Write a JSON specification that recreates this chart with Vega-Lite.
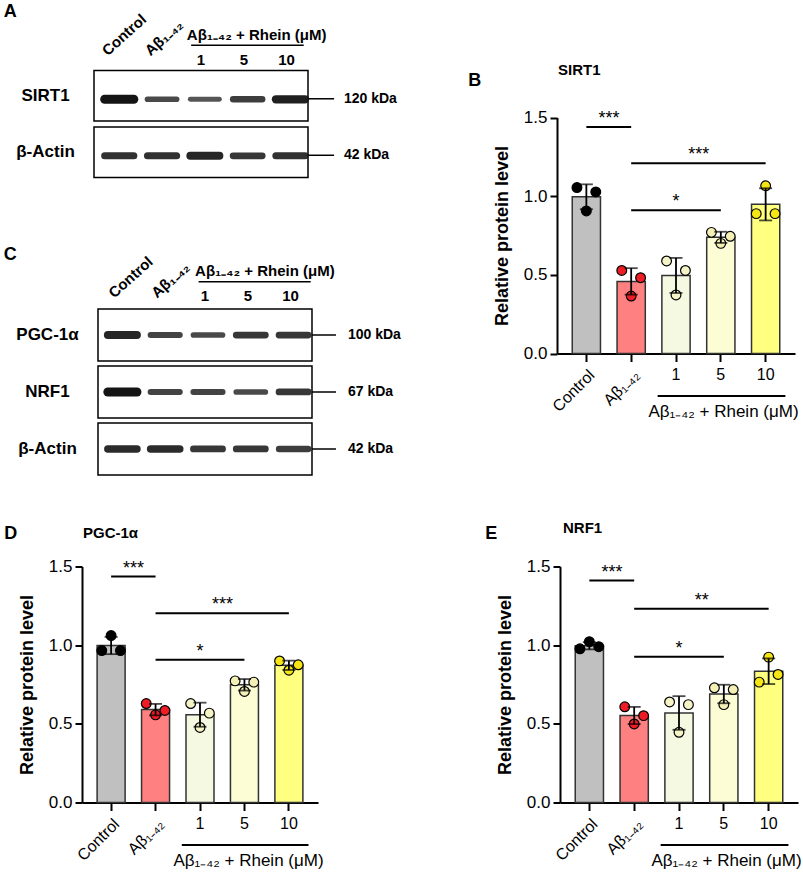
{
  "$schema": "https://vega.github.io/schema/vega-lite/v6.json",
  "padding": {"left": 3, "top": 3, "right": 0, "bottom": 0},
  "config": {
    "font": "Liberation Sans",
    "view": {"stroke": null},
    "axis": {"labelColor": "black", "titleColor": "black", "domainColor": "black", "tickColor": "black", "grid": false, "labelFont": "Liberation Sans", "titleFont": "Liberation Sans"},
    "title": {"color": "black", "font": "Liberation Sans", "fontWeight": "bold"}
  },
  "datasets": {
    "lanes": [
      {"lane": "Control"}, {"lane": "Aβ₁₋₄₂"}, {"lane": "1"}, {"lane": "5"}, {"lane": "10"}
    ],
    "protA": [
      {"protein": "SIRT1", "kda": "120 kDa", "firstLane": "Control", "lastLane": "10", "markerLane": "Marker"},
      {"protein": "β-Actin", "kda": "42 kDa", "firstLane": "Control", "lastLane": "10", "markerLane": "Marker"}
    ],
    "blotA": [
      {"protein": "SIRT1", "lane": "Control", "intensity": 1.0},
      {"protein": "SIRT1", "lane": "Aβ₁₋₄₂", "intensity": 0.55},
      {"protein": "SIRT1", "lane": "1", "intensity": 0.45},
      {"protein": "SIRT1", "lane": "5", "intensity": 0.65},
      {"protein": "SIRT1", "lane": "10", "intensity": 0.9},
      {"protein": "β-Actin", "lane": "Control", "intensity": 0.75},
      {"protein": "β-Actin", "lane": "Aβ₁₋₄₂", "intensity": 0.75},
      {"protein": "β-Actin", "lane": "1", "intensity": 0.85},
      {"protein": "β-Actin", "lane": "5", "intensity": 0.7},
      {"protein": "β-Actin", "lane": "10", "intensity": 0.75}
    ],
    "protC": [
      {"protein": "PGC-1α", "kda": "100 kDa", "firstLane": "Control", "lastLane": "10", "markerLane": "Marker"},
      {"protein": "NRF1", "kda": "67 kDa", "firstLane": "Control", "lastLane": "10", "markerLane": "Marker"},
      {"protein": "β-Actin", "kda": "42 kDa", "firstLane": "Control", "lastLane": "10", "markerLane": "Marker"}
    ],
    "blotC": [
      {"protein": "PGC-1α", "lane": "Control", "intensity": 0.85},
      {"protein": "PGC-1α", "lane": "Aβ₁₋₄₂", "intensity": 0.6},
      {"protein": "PGC-1α", "lane": "1", "intensity": 0.55},
      {"protein": "PGC-1α", "lane": "5", "intensity": 0.7},
      {"protein": "PGC-1α", "lane": "10", "intensity": 0.7},
      {"protein": "NRF1", "lane": "Control", "intensity": 1.0},
      {"protein": "NRF1", "lane": "Aβ₁₋₄₂", "intensity": 0.6},
      {"protein": "NRF1", "lane": "1", "intensity": 0.6},
      {"protein": "NRF1", "lane": "5", "intensity": 0.55},
      {"protein": "NRF1", "lane": "10", "intensity": 0.7},
      {"protein": "β-Actin", "lane": "Control", "intensity": 0.8},
      {"protein": "β-Actin", "lane": "Aβ₁₋₄₂", "intensity": 0.8},
      {"protein": "β-Actin", "lane": "1", "intensity": 0.7},
      {"protein": "β-Actin", "lane": "5", "intensity": 0.7},
      {"protein": "β-Actin", "lane": "10", "intensity": 0.65}
    ],
    "sirt1": [
      {"group": "Control", "rep": "r1", "value": 1.055},
      {"group": "Control", "rep": "r2", "value": 0.906},
      {"group": "Control", "rep": "r3", "value": 1.027},
      {"group": "Aβ₁₋₄₂", "rep": "r1", "value": 0.528},
      {"group": "Aβ₁₋₄₂", "rep": "r2", "value": 0.365},
      {"group": "Aβ₁₋₄₂", "rep": "r3", "value": 0.482},
      {"group": "1", "rep": "r1", "value": 0.588},
      {"group": "1", "rep": "r2", "value": 0.372},
      {"group": "1", "rep": "r3", "value": 0.528},
      {"group": "5", "rep": "r1", "value": 0.77},
      {"group": "5", "rep": "r2", "value": 0.70},
      {"group": "5", "rep": "r3", "value": 0.745},
      {"group": "10", "rep": "r1", "value": 0.889},
      {"group": "10", "rep": "r2", "value": 1.066},
      {"group": "10", "rep": "r3", "value": 0.889}
    ],
    "sigB": [
      {"from": "Control", "to": "Aβ₁₋₄₂", "y": 1.44, "label": "***", "at": "Aβ₁₋₄₂", "side": "gap"},
      {"from": "Aβ₁₋₄₂", "to": "10", "y": 1.21, "label": "***", "at": "5", "side": "gap"},
      {"from": "Aβ₁₋₄₂", "to": "5", "y": 0.91, "label": "*", "at": "1", "side": "center"}
    ],
    "pgc": [
      {"group": "Control", "rep": "r1", "value": 0.966},
      {"group": "Control", "rep": "r2", "value": 1.061},
      {"group": "Control", "rep": "r3", "value": 0.966},
      {"group": "Aβ₁₋₄₂", "rep": "r1", "value": 0.629},
      {"group": "Aβ₁₋₄₂", "rep": "r2", "value": 0.557},
      {"group": "Aβ₁₋₄₂", "rep": "r3", "value": 0.585},
      {"group": "1", "rep": "r1", "value": 0.629},
      {"group": "1", "rep": "r2", "value": 0.477},
      {"group": "1", "rep": "r3", "value": 0.568},
      {"group": "5", "rep": "r1", "value": 0.773},
      {"group": "5", "rep": "r2", "value": 0.706},
      {"group": "5", "rep": "r3", "value": 0.765},
      {"group": "10", "rep": "r1", "value": 0.900},
      {"group": "10", "rep": "r2", "value": 0.841},
      {"group": "10", "rep": "r3", "value": 0.875}
    ],
    "sigD": [
      {"from": "Control", "to": "Aβ₁₋₄₂", "y": 1.436, "label": "***", "at": "Aβ₁₋₄₂", "side": "gap"},
      {"from": "Aβ₁₋₄₂", "to": "10", "y": 1.203, "label": "***", "at": "5", "side": "gap"},
      {"from": "Aβ₁₋₄₂", "to": "5", "y": 0.907, "label": "*", "at": "1", "side": "center"}
    ],
    "nrf1": [
      {"group": "Control", "rep": "r1", "value": 0.977},
      {"group": "Control", "rep": "r2", "value": 1.022},
      {"group": "Control", "rep": "r3", "value": 0.990},
      {"group": "Aβ₁₋₄₂", "rep": "r1", "value": 0.608},
      {"group": "Aβ₁₋₄₂", "rep": "r2", "value": 0.499},
      {"group": "Aβ₁₋₄₂", "rep": "r3", "value": 0.552},
      {"group": "1", "rep": "r1", "value": 0.639},
      {"group": "1", "rep": "r2", "value": 0.446},
      {"group": "1", "rep": "r3", "value": 0.622},
      {"group": "5", "rep": "r1", "value": 0.729},
      {"group": "5", "rep": "r2", "value": 0.622},
      {"group": "5", "rep": "r3", "value": 0.718},
      {"group": "10", "rep": "r1", "value": 0.765},
      {"group": "10", "rep": "r2", "value": 0.924},
      {"group": "10", "rep": "r3", "value": 0.814}
    ],
    "sigE": [
      {"from": "Control", "to": "Aβ₁₋₄₂", "y": 1.411, "label": "***", "at": "Aβ₁₋₄₂", "side": "gap"},
      {"from": "Aβ₁₋₄₂", "to": "10", "y": 1.232, "label": "**", "at": "5", "side": "gap"},
      {"from": "Aβ₁₋₄₂", "to": "5", "y": 0.926, "label": "*", "at": "1", "side": "center"}
    ],
    "rheinGroup": [
      {"first": "1", "last": "10", "label": "Aβ₁₋₄₂ + Rhein (μM)"}
    ]
  },
  "vconcat": [
    {
      "hconcat": [
        {
          "vconcat": [
            {
              "width": 256.8,
              "height": 163.5,
              "title": {"text": "A", "anchor": "start", "fontSize": 18, "baseline": "alphabetic", "dx": -12, "offset": -23.5},
              "layer": [
                {
                  "data": {"name": "protA"},
                  "mark": {"type": "rect", "fill": "white", "stroke": "black", "strokeWidth": 1.5},
                  "encoding": {
                    "x": {"field": "firstLane", "type": "nominal", "bandPosition": 0, "scale": {"domain": ["Control", "Aβ₁₋₄₂", "1", "5", "10", "Marker"], "paddingInner": 0, "paddingOuter": 0}, "axis": null},
                    "x2": {"field": "lastLane", "bandPosition": 1},
                    "y": {"field": "protein", "type": "nominal", "title": null, "scale": {"domain": ["Lane", "SIRT1", "β-Actin"], "paddingInner": 0.106, "paddingOuter": 0},
                      "axis": {"values": ["SIRT1", "β-Actin"], "title": null, "orient": "left", "domain": false, "ticks": false, "tickSize": 0, "labelAlign": "center", "labelBaseline": "middle", "labelPadding": 49, "labelFontSize": 17, "labelFontWeight": "bold"}}
                  }
                },
                {
                  "data": {"name": "protA"},
                  "mark": {"type": "rule", "strokeWidth": 1.5, "color": "black"},
                  "encoding": {
                    "x": {"field": "lastLane", "type": "nominal", "bandPosition": 1, "axis": null},
                    "x2": {"field": "markerLane", "bandPosition": 0.61},
                    "y": {"field": "protein", "type": "nominal", "title": null, "bandPosition": 0.56}
                  }
                },
                {
                  "data": {"name": "protA"},
                  "mark": {"type": "text", "align": "left", "baseline": "middle", "fontSize": 14, "fontWeight": "bold", "color": "black"},
                  "encoding": {
                    "x": {"field": "markerLane", "type": "nominal", "bandPosition": 0.84, "axis": null},
                    "y": {"field": "protein", "type": "nominal", "title": null, "bandPosition": 0.56},
                    "text": {"field": "kda"}
                  }
                },
                {
                  "data": {"name": "blotA"},
                  "mark": {"type": "rule", "strokeCap": "round", "color": "#141414"},
                  "encoding": {
                    "x": {"field": "lane", "type": "nominal", "bandPosition": 0.25, "axis": null},
                    "x2": {"field": "lane", "bandPosition": 0.93},
                    "y": {"field": "protein", "type": "nominal", "title": null, "bandPosition": 0.57},
                    "strokeWidth": {"field": "intensity", "type": "quantitative", "scale": {"domain": [0, 1], "range": [1.5, 9]}, "legend": null},
                    "opacity": {"field": "intensity", "type": "quantitative", "scale": {"domain": [0, 1], "range": [0.5, 1]}, "legend": null}
                  }
                },
                {
                  "data": {"name": "lanes"},
                  "transform": [{"filter": {"field": "lane", "oneOf": ["Control", "Aβ₁₋₄₂"]}}],
                  "mark": {"type": "text", "angle": -42, "align": "left", "baseline": "alphabetic", "fontSize": 15, "fontWeight": "bold", "color": "black"},
                  "encoding": {
                    "x": {"field": "lane", "type": "nominal", "bandPosition": 0.32, "axis": null},
                    "y": {"datum": "Lane", "bandPosition": 0.84, "title": null},
                    "text": {"field": "lane"}
                  }
                },
                {
                  "data": {"name": "lanes"},
                  "transform": [{"filter": {"field": "lane", "oneOf": ["1", "5", "10"]}}],
                  "mark": {"type": "text", "align": "center", "baseline": "alphabetic", "fontSize": 15, "fontWeight": "bold", "color": "black"},
                  "encoding": {
                    "x": {"field": "lane", "type": "nominal", "axis": null},
                    "y": {"datum": "Lane", "bandPosition": 1.0, "title": null},
                    "text": {"field": "lane"}
                  }
                },
                {
                  "data": {"name": "rheinGroup"},
                  "mark": {"type": "rule", "strokeWidth": 1.5, "color": "black"},
                  "encoding": {
                    "x": {"field": "first", "type": "nominal", "bandPosition": 0.27, "axis": null},
                    "x2": {"field": "last", "bandPosition": 0.9},
                    "y": {"datum": "Lane", "bandPosition": 0.62, "title": null}
                  }
                },
                {
                  "data": {"name": "rheinGroup"},
                  "mark": {"type": "text", "align": "center", "baseline": "middle", "fontSize": 15, "fontWeight": "bold", "color": "black"},
                  "encoding": {
                    "x": {"datum": "5", "bandPosition": 0.8, "axis": null},
                    "y": {"datum": "Lane", "bandPosition": 0.41, "title": null},
                    "text": {"field": "label"}
                  }
                }
              ]
            },
            {
              "width": 260.8,
              "height": 223,
              "title": {"text": "C", "anchor": "start", "fontSize": 18, "baseline": "alphabetic", "dx": -12, "offset": -26},
              "layer": [
                {
                  "data": {"name": "protC"},
                  "mark": {"type": "rect", "fill": "white", "stroke": "black", "strokeWidth": 1.5},
                  "encoding": {
                    "x": {"field": "firstLane", "type": "nominal", "bandPosition": 0, "scale": {"domain": ["Control", "Aβ₁₋₄₂", "1", "5", "10", "Marker"], "paddingInner": 0, "paddingOuter": 0.0467, "align": 1}, "axis": null},
                    "x2": {"field": "lastLane", "bandPosition": 1},
                    "y": {"field": "protein", "type": "nominal", "title": null, "scale": {"domain": ["Lane", "PGC-1α", "NRF1", "β-Actin"], "paddingInner": 0.0877, "paddingOuter": 0},
                      "axis": {"values": ["PGC-1α", "NRF1", "β-Actin"], "title": null, "orient": "left", "domain": false, "ticks": false, "tickSize": 0, "labelAlign": "center", "labelBaseline": "middle", "labelPadding": 47, "labelFontSize": 17, "labelFontWeight": "bold"}}
                  }
                },
                {
                  "data": {"name": "protC"},
                  "mark": {"type": "rule", "strokeWidth": 1.5, "color": "black"},
                  "encoding": {
                    "x": {"field": "lastLane", "type": "nominal", "bandPosition": 1, "axis": null},
                    "x2": {"field": "markerLane", "bandPosition": 0.56},
                    "y": {"field": "protein", "type": "nominal", "title": null, "bandPosition": 0.5}
                  }
                },
                {
                  "data": {"name": "protC"},
                  "mark": {"type": "text", "align": "left", "baseline": "middle", "fontSize": 14, "fontWeight": "bold", "color": "black"},
                  "encoding": {
                    "x": {"field": "markerLane", "type": "nominal", "bandPosition": 0.84, "axis": null},
                    "y": {"field": "protein", "type": "nominal", "title": null, "bandPosition": 0.5},
                    "text": {"field": "kda"}
                  }
                },
                {
                  "data": {"name": "blotC"},
                  "mark": {"type": "rule", "strokeCap": "round", "color": "#141414"},
                  "encoding": {
                    "x": {"field": "lane", "type": "nominal", "bandPosition": 0.23, "axis": null},
                    "x2": {"field": "lane", "bandPosition": 0.91},
                    "y": {"field": "protein", "type": "nominal", "title": null, "bandPosition": 0.5},
                    "strokeWidth": {"field": "intensity", "type": "quantitative", "scale": {"domain": [0, 1], "range": [1.5, 9]}, "legend": null},
                    "opacity": {"field": "intensity", "type": "quantitative", "scale": {"domain": [0, 1], "range": [0.5, 1]}, "legend": null}
                  }
                },
                {
                  "data": {"name": "lanes"},
                  "transform": [{"filter": {"field": "lane", "oneOf": ["Control", "Aβ₁₋₄₂"]}}],
                  "mark": {"type": "text", "angle": -42, "align": "left", "baseline": "alphabetic", "fontSize": 15, "fontWeight": "bold", "color": "black"},
                  "encoding": {
                    "x": {"field": "lane", "type": "nominal", "bandPosition": 0.38, "axis": null},
                    "y": {"datum": "Lane", "bandPosition": 0.9, "title": null},
                    "text": {"field": "lane"}
                  }
                },
                {
                  "data": {"name": "lanes"},
                  "transform": [{"filter": {"field": "lane", "oneOf": ["1", "5", "10"]}}],
                  "mark": {"type": "text", "align": "center", "baseline": "alphabetic", "fontSize": 15, "fontWeight": "bold", "color": "black"},
                  "encoding": {
                    "x": {"field": "lane", "type": "nominal", "axis": null},
                    "y": {"datum": "Lane", "bandPosition": 0.95, "title": null},
                    "text": {"field": "lane"}
                  }
                },
                {
                  "data": {"name": "rheinGroup"},
                  "mark": {"type": "rule", "strokeWidth": 1.5, "color": "black"},
                  "encoding": {
                    "x": {"field": "first", "type": "nominal", "bandPosition": 0.35, "axis": null},
                    "x2": {"field": "last", "bandPosition": 0.97},
                    "y": {"datum": "Lane", "bandPosition": 0.57, "title": null}
                  }
                },
                {
                  "data": {"name": "rheinGroup"},
                  "mark": {"type": "text", "align": "center", "baseline": "middle", "fontSize": 15, "fontWeight": "bold", "color": "black"},
                  "encoding": {
                    "x": {"datum": "5", "bandPosition": 0.9, "axis": null},
                    "y": {"datum": "Lane", "bandPosition": 0.37, "title": null},
                    "text": {"field": "label"}
                  }
                }
              ]
            }
          ],
          "spacing": 67
        },
        {
          "title": {"text": "B", "anchor": "start", "fontSize": 18, "baseline": "alphabetic", "dx": -25, "offset": -89.5},
          "vconcat": [
            {
              "width": 238,
              "height": 339.5,
              "title": {"text": "SIRT1", "anchor": "start", "frame": "group", "fontSize": 15, "baseline": "alphabetic", "dx": 1, "offset": -75.5},
              "data": {"name": "sirt1"},
              "layer": [
                {
                  "mark": {"type": "bar", "stroke": "#333333", "strokeWidth": 1.5},
                  "encoding": {
                    "x": {"field": "group", "type": "nominal",
                      "scale": {"domain": ["Control", "Aβ₁₋₄₂", "1", "5", "10"], "paddingInner": 0.37, "paddingOuter": 0.34},
                      "axis": {"title": "Aβ₁₋₄₂ + Rhein (μM)", "titleFontWeight": "normal", "titleFontSize": 17, "titleX": 166, "titleY": 58, "titleAlign": "center", "titleBaseline": "middle",
                        "labelFontSize": 16, "labelAngle": {"expr": "indexof(['1','5','10'], datum.value) >= 0 ? 0 : -45"},
                        "labelAlign": {"condition": {"test": "indexof(['1','5','10'], datum.value) >= 0", "value": "center"}, "value": "right"},
                        "labelBaseline": "top", "labelPadding": 5, "tickSize": 8, "tickWidth": 2, "domainWidth": 2, "labelOverlap": false, "labelBound": false, "labelFlush": false}},
                    "y": {"aggregate": "mean", "field": "value", "type": "quantitative", "title": "Relative protein level",
                      "scale": {"domain": [0, 1.5], "range": [339.5, 103.5], "nice": false},
                      "axis": {"titleFontSize": 18, "titleFontWeight": "bold", "titlePadding": 12, "values": [0, 0.5, 1, 1.5], "format": ".1f", "labelFontSize": 17, "labelPadding": 3, "tickSize": 7, "tickWidth": 2, "domainWidth": 2}},
                    "fill": {"field": "group", "type": "nominal", "scale": {"domain": ["Control", "Aβ₁₋₄₂", "1", "5", "10"], "range": ["#c0c0c0", "#ff8080", "#f5f9e1", "#fdfdd5", "#ffff80"]}, "legend": null}
                  }
                },
                {
                  "mark": {"type": "point", "shape": "circle", "filled": true, "size": 95, "stroke": "black", "strokeWidth": 1.2, "opacity": 1},
                  "encoding": {
                    "x": {"field": "group", "type": "nominal"},
                    "xOffset": {"field": "rep", "type": "nominal", "scale": {"domain": ["r1", "r2", "r3"]}},
                    "y": {"field": "value", "type": "quantitative", "title": "Relative protein level"},
                    "fill": {"field": "group", "type": "nominal", "scale": {"domain": ["Control", "Aβ₁₋₄₂", "1", "5", "10"], "range": ["#000000", "#ee1c24", "#f4f4c6", "#f3efb5", "#f6e514"]}, "legend": null}
                  }
                },
                {
                  "mark": {"type": "errorbar", "extent": "stdev", "color": "black", "thickness": 1.8, "ticks": {"size": 13, "thickness": 1.8}},
                  "encoding": {
                    "x": {"field": "group", "type": "nominal"},
                    "y": {"field": "value", "type": "quantitative", "title": "Relative protein level"}
                  }
                },
                {
                  "data": {"name": "sigB"},
                  "mark": {"type": "rule", "strokeWidth": 2, "color": "black"},
                  "encoding": {
                    "x": {"field": "from", "type": "nominal"},
                    "x2": {"field": "to"},
                    "y": {"field": "y", "type": "quantitative", "title": "Relative protein level"}
                  }
                },
                {
                  "data": {"name": "sigB"},
                  "mark": {"type": "text", "fontSize": 18, "baseline": "alphabetic", "dy": -3, "color": "black"},
                  "encoding": {
                    "x": {"field": "at", "type": "nominal"},
                    "xOffset": {"field": "side", "type": "nominal", "scale": {"type": "point", "domain": ["gap", "center"], "range": [-8, 14], "padding": 0}},
                    "y": {"field": "y", "type": "quantitative", "title": "Relative protein level"},
                    "text": {"field": "label"}
                  }
                },
                {
                  "data": {"name": "rheinGroup"},
                  "mark": {"type": "rule", "strokeWidth": 2, "color": "black"},
                  "encoding": {
                    "x": {"field": "first", "type": "nominal", "bandPosition": -0.15},
                    "x2": {"field": "last", "bandPosition": 1.2},
                    "y": {"datum": -0.27}
                  }
                }
              ],
              "resolve": {"scale": {"fill": "independent", "xOffset": "independent"}}
            }
          ]
        }
      ],
      "spacing": 67
    },
    {
      "hconcat": [
        {
          "title": {"text": "D", "anchor": "start", "fontSize": 18, "baseline": "alphabetic", "dx": -14, "offset": -30.5},
          "vconcat": [
            {
              "width": 224,
              "height": 236,
              "title": {"text": "PGC-1α", "anchor": "start", "frame": "group", "fontSize": 15, "baseline": "alphabetic", "dx": -11, "offset": 4.5},
              "data": {"name": "pgc"},
              "layer": [
                {
                  "mark": {"type": "bar", "stroke": "#333333", "strokeWidth": 1.5},
                  "encoding": {
                    "x": {"field": "group", "type": "nominal",
                      "scale": {"domain": ["Control", "Aβ₁₋₄₂", "1", "5", "10"], "range": [-12, 224], "paddingInner": 0.37, "paddingOuter": 0.34},
                      "axis": {"title": "Aβ₁₋₄₂ + Rhein (μM)", "titleFontWeight": "normal", "titleFontSize": 17, "titleX": 154, "titleY": 58, "titleAlign": "center", "titleBaseline": "middle",
                        "labelFontSize": 16, "labelAngle": {"expr": "indexof(['1','5','10'], datum.value) >= 0 ? 0 : -45"},
                        "labelAlign": {"condition": {"test": "indexof(['1','5','10'], datum.value) >= 0", "value": "center"}, "value": "right"},
                        "labelBaseline": "top", "labelPadding": 5, "tickSize": 8, "tickWidth": 2, "domainWidth": 2, "labelOverlap": false, "labelBound": false, "labelFlush": false}},
                    "y": {"aggregate": "mean", "field": "value", "type": "quantitative", "title": "Relative protein level",
                      "scale": {"domain": [0, 1.5], "nice": false},
                      "axis": {"offset": 12, "titleFontSize": 18, "titleFontWeight": "bold", "titlePadding": 12, "values": [0, 0.5, 1, 1.5], "format": ".1f", "labelFontSize": 17, "labelPadding": 3, "tickSize": 7, "tickWidth": 2, "domainWidth": 2}},
                    "fill": {"field": "group", "type": "nominal", "scale": {"domain": ["Control", "Aβ₁₋₄₂", "1", "5", "10"], "range": ["#c0c0c0", "#ff8080", "#f5f9e1", "#fdfdd5", "#ffff80"]}, "legend": null}
                  }
                },
                {
                  "mark": {"type": "point", "shape": "circle", "filled": true, "size": 95, "stroke": "black", "strokeWidth": 1.2, "opacity": 1},
                  "encoding": {
                    "x": {"field": "group", "type": "nominal"},
                    "xOffset": {"field": "rep", "type": "nominal", "scale": {"domain": ["r1", "r2", "r3"]}},
                    "y": {"field": "value", "type": "quantitative", "title": "Relative protein level"},
                    "fill": {"field": "group", "type": "nominal", "scale": {"domain": ["Control", "Aβ₁₋₄₂", "1", "5", "10"], "range": ["#000000", "#ee1c24", "#f4f4c6", "#f3efb5", "#f6e514"]}, "legend": null}
                  }
                },
                {
                  "mark": {"type": "errorbar", "extent": "stdev", "color": "black", "thickness": 1.8, "ticks": {"size": 13, "thickness": 1.8}},
                  "encoding": {
                    "x": {"field": "group", "type": "nominal"},
                    "y": {"field": "value", "type": "quantitative", "title": "Relative protein level"}
                  }
                },
                {
                  "data": {"name": "sigD"},
                  "mark": {"type": "rule", "strokeWidth": 2, "color": "black"},
                  "encoding": {
                    "x": {"field": "from", "type": "nominal"},
                    "x2": {"field": "to"},
                    "y": {"field": "y", "type": "quantitative", "title": "Relative protein level"}
                  }
                },
                {
                  "data": {"name": "sigD"},
                  "mark": {"type": "text", "fontSize": 18, "baseline": "alphabetic", "dy": -3, "color": "black"},
                  "encoding": {
                    "x": {"field": "at", "type": "nominal"},
                    "xOffset": {"field": "side", "type": "nominal", "scale": {"type": "point", "domain": ["gap", "center"], "range": [-8, 14], "padding": 0}},
                    "y": {"field": "y", "type": "quantitative", "title": "Relative protein level"},
                    "text": {"field": "label"}
                  }
                },
                {
                  "data": {"name": "rheinGroup"},
                  "mark": {"type": "rule", "strokeWidth": 2, "color": "black"},
                  "encoding": {
                    "x": {"field": "first", "type": "nominal", "bandPosition": -0.15},
                    "x2": {"field": "last", "bandPosition": 1.2},
                    "y": {"datum": -0.27}
                  }
                }
              ],
              "resolve": {"scale": {"fill": "independent", "xOffset": "independent"}}
            }
          ]
        },
        {
          "title": {"text": "E", "anchor": "start", "fontSize": 18, "baseline": "alphabetic", "dx": -11, "offset": -35.5},
          "vconcat": [
            {
              "width": 238,
              "height": 236,
              "title": {"text": "NRF1", "anchor": "start", "frame": "group", "fontSize": 15, "baseline": "alphabetic", "dx": 3, "offset": 9.5},
              "data": {"name": "nrf1"},
              "layer": [
                {
                  "mark": {"type": "bar", "stroke": "#333333", "strokeWidth": 1.5},
                  "encoding": {
                    "x": {"field": "group", "type": "nominal",
                      "scale": {"domain": ["Control", "Aβ₁₋₄₂", "1", "5", "10"], "paddingInner": 0.37, "paddingOuter": 0.34},
                      "axis": {"title": "Aβ₁₋₄₂ + Rhein (μM)", "titleFontWeight": "normal", "titleFontSize": 17, "titleX": 166, "titleY": 58, "titleAlign": "center", "titleBaseline": "middle",
                        "labelFontSize": 16, "labelAngle": {"expr": "indexof(['1','5','10'], datum.value) >= 0 ? 0 : -45"},
                        "labelAlign": {"condition": {"test": "indexof(['1','5','10'], datum.value) >= 0", "value": "center"}, "value": "right"},
                        "labelBaseline": "top", "labelPadding": 5, "tickSize": 8, "tickWidth": 2, "domainWidth": 2, "labelOverlap": false, "labelBound": false, "labelFlush": false}},
                    "y": {"aggregate": "mean", "field": "value", "type": "quantitative", "title": "Relative protein level",
                      "scale": {"domain": [0, 1.5], "nice": false},
                      "axis": {"titleFontSize": 18, "titleFontWeight": "bold", "titlePadding": 12, "values": [0, 0.5, 1, 1.5], "format": ".1f", "labelFontSize": 17, "labelPadding": 3, "tickSize": 7, "tickWidth": 2, "domainWidth": 2}},
                    "fill": {"field": "group", "type": "nominal", "scale": {"domain": ["Control", "Aβ₁₋₄₂", "1", "5", "10"], "range": ["#c0c0c0", "#ff8080", "#f5f9e1", "#fdfdd5", "#ffff80"]}, "legend": null}
                  }
                },
                {
                  "mark": {"type": "point", "shape": "circle", "filled": true, "size": 95, "stroke": "black", "strokeWidth": 1.2, "opacity": 1},
                  "encoding": {
                    "x": {"field": "group", "type": "nominal"},
                    "xOffset": {"field": "rep", "type": "nominal", "scale": {"domain": ["r1", "r2", "r3"]}},
                    "y": {"field": "value", "type": "quantitative", "title": "Relative protein level"},
                    "fill": {"field": "group", "type": "nominal", "scale": {"domain": ["Control", "Aβ₁₋₄₂", "1", "5", "10"], "range": ["#000000", "#ee1c24", "#f4f4c6", "#f3efb5", "#f6e514"]}, "legend": null}
                  }
                },
                {
                  "mark": {"type": "errorbar", "extent": "stdev", "color": "black", "thickness": 1.8, "ticks": {"size": 13, "thickness": 1.8}},
                  "encoding": {
                    "x": {"field": "group", "type": "nominal"},
                    "y": {"field": "value", "type": "quantitative", "title": "Relative protein level"}
                  }
                },
                {
                  "data": {"name": "sigE"},
                  "mark": {"type": "rule", "strokeWidth": 2, "color": "black"},
                  "encoding": {
                    "x": {"field": "from", "type": "nominal"},
                    "x2": {"field": "to"},
                    "y": {"field": "y", "type": "quantitative", "title": "Relative protein level"}
                  }
                },
                {
                  "data": {"name": "sigE"},
                  "mark": {"type": "text", "fontSize": 18, "baseline": "alphabetic", "dy": -3, "color": "black"},
                  "encoding": {
                    "x": {"field": "at", "type": "nominal"},
                    "xOffset": {"field": "side", "type": "nominal", "scale": {"type": "point", "domain": ["gap", "center"], "range": [-8, 14], "padding": 0}},
                    "y": {"field": "y", "type": "quantitative", "title": "Relative protein level"},
                    "text": {"field": "label"}
                  }
                },
                {
                  "data": {"name": "rheinGroup"},
                  "mark": {"type": "rule", "strokeWidth": 2, "color": "black"},
                  "encoding": {
                    "x": {"field": "first", "type": "nominal", "bandPosition": -0.15},
                    "x2": {"field": "last", "bandPosition": 1.2},
                    "y": {"datum": -0.27}
                  }
                }
              ],
              "resolve": {"scale": {"fill": "independent", "xOffset": "independent"}}
            }
          ]
        }
      ],
      "spacing": 155
    }
  ],
  "spacing": 44.5
}
